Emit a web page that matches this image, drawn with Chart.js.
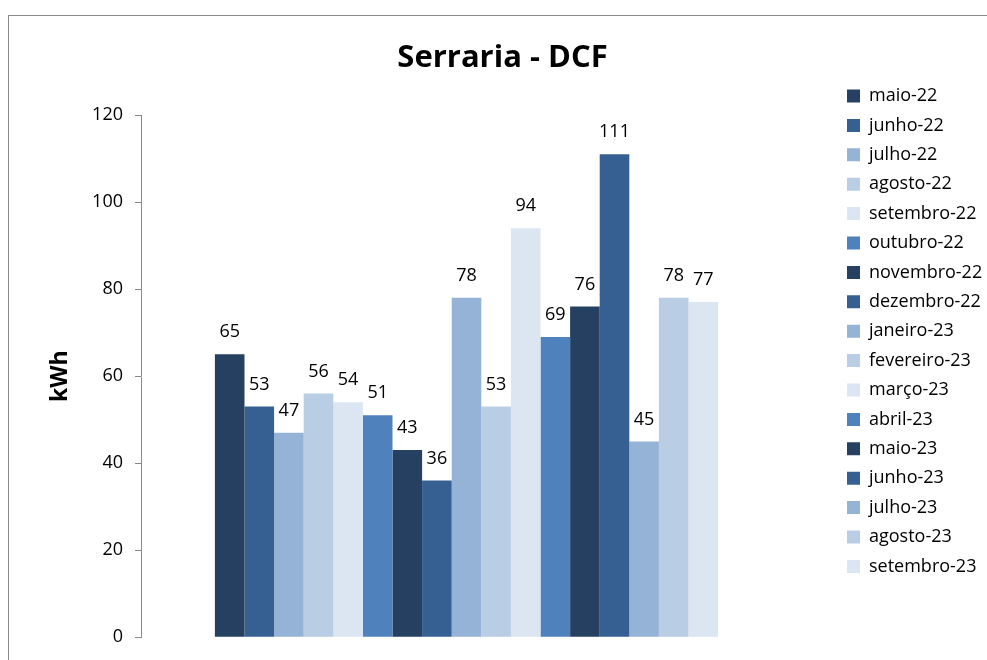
<!DOCTYPE html>
<html><head><meta charset="utf-8">
<script src="https://cdn.jsdelivr.net/npm/chart.js@4"></script>
<style>
html,body{margin:0;padding:0;background:#fff;overflow:hidden}
#frame{position:absolute;left:8px;top:15px;width:1200px;height:900px;border:1px solid #888;box-sizing:border-box}
#wrap{position:absolute;left:0;top:0;width:987px;height:660px}
</style></head><body>
<div id="frame"></div>
<div id="wrap"><canvas id="c" width="987" height="660"></canvas></div>
<script>
const categories = [''];
const months = ['maio-22','junho-22','julho-22','agosto-22','setembro-22','outubro-22','novembro-22','dezembro-22','janeiro-23','fevereiro-23','março-23','abril-23','maio-23','junho-23','julho-23','agosto-23','setembro-23'];
const values = [65,53,47,56,54,51,43,36,78,53,94,69,76,111,45,78,77];
const palette = ['#254061','#376092','#95B3D7','#B9CDE5','#DCE6F2','#4F81BD'];
const yTicks = [0,20,40,60,80,100,120];

const FONT = 'Open Sans';
const LEG_SIZE = 18, LEG_BOX = 13, LEG_PAD = 29.4 - 18;

const mctx = document.createElement('canvas').getContext('2d');
mctx.font = LEG_SIZE + 'px "' + FONT + '"';
let maxW = 0;
months.forEach(m => { maxW = Math.max(maxW, mctx.measureText(m).width); });
const legendW = LEG_PAD + LEG_BOX + LEG_SIZE / 2 + maxW + 10;
const padRight = Math.max(0, 987 - 792 - legendW);

const valueLabels = {
  id: 'valueLabels',
  afterDatasetsDraw(chart) {
    const ctx = chart.ctx;
    ctx.save();
    ctx.font = '18px "' + FONT + '"';
    ctx.fillStyle = '#000';
    ctx.textAlign = 'center';
    ctx.textBaseline = 'middle';
    chart.data.datasets.forEach((ds, i) => {
      const meta = chart.getDatasetMeta(i);
      meta.data.forEach((el, j) => {
        ctx.fillText(String(ds.data[j]), el.x, el.y - 22);
      });
    });
    ctx.restore();
  }
};

const boxPlace = {
  id: 'boxPlace',
  afterLayout(chart) {
    const lg = chart.legend;
    const w = lg.width;
    lg.left = 847 - LEG_PAD; lg.right = lg.left + w;
    lg.top = 96 - LEG_SIZE / 2 - LEG_PAD; lg.bottom = 660;
    lg.height = lg.bottom - lg.top;
    const t = chart.titleBlock;
    t.left = 23; t.right = 982; t.width = t.right - t.left;
  }
};

new Chart(document.getElementById('c'), {
  type: 'bar',
  data: {
    labels: categories,
    datasets: months.map((m, i) => ({
      label: m,
      data: [values[i]],
      backgroundColor: palette[i % palette.length],
      borderWidth: 0
    }))
  },
  options: {
    responsive: false,
    animation: false,
    devicePixelRatio: 1,
    layout: { padding: { left: 23, right: padRight, top: 0, bottom: 22 } },
    datasets: { bar: { categoryPercentage: 0.773, barPercentage: 1 } },
    scales: {
      x: { display: false },
      y: {
        min: 0, max: 120,
        afterFit: s => { s.width = 118; },
        afterBuildTicks: s => { s.ticks = yTicks.map(v => ({ value: v })); },
        ticks: { font: { family: FONT, size: 18 }, color: '#000', padding: 12 },
        grid: { display: true, drawOnChartArea: false, drawTicks: true, tickLength: 6, color: '#888' },
        border: { display: true, color: '#888', width: 1 },
        title: { display: true, text: 'kWh', font: { family: FONT, size: 23, weight: 'bold' }, color: '#000', padding: { top: 24, bottom: 0 } }
      }
    },
    plugins: {
      title: { display: true, text: 'Serraria - DCF', font: { family: FONT, size: 31, weight: 'bold' }, color: '#000', padding: { top: 39.4, bottom: 38.4 } },
      legend: {
        position: 'right', align: 'start',
        labels: { font: { family: FONT, size: LEG_SIZE }, color: '#000', boxWidth: LEG_BOX, boxHeight: LEG_BOX, padding: LEG_PAD }
      },
      tooltip: { enabled: false }
    }
  },
  plugins: [valueLabels, boxPlace]
});
</script>
</body></html>
